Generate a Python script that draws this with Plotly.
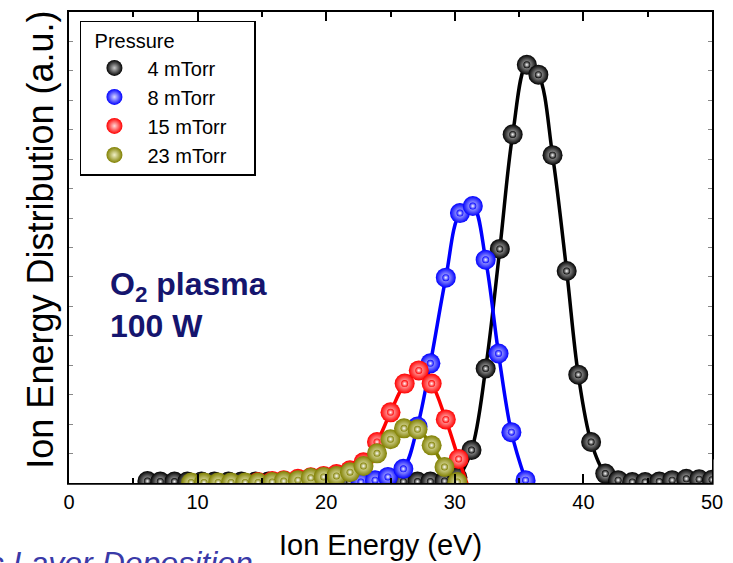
import plotly.graph_objects as go

# ---------------- data ----------------
series_names = ["4 mTorr", "8 mTorr", "15 mTorr", "23 mTorr"]
series_colors = ["#000000", "#0000ff", "#ff0000", "#808000"]
highlight_colors = ["#c8c8c8", "#d8d8ff", "#ffd8d8", "#f0f0c8"]

energy_4 = [6.1, 7.1, 8.2, 9.2, 10.3, 11.3, 12.4, 13.4, 14.5, 15.5, 16.6, 17.6, 18.7,
            19.7, 20.8, 21.8, 22.9, 23.9, 25.0, 26.0, 27.1, 28.1, 29.2, 30.2, 31.3,
            32.4, 33.5, 34.5, 35.6, 36.5, 37.6, 38.7, 39.6, 40.6, 41.7, 42.7, 43.8,
            44.8, 45.9, 46.9, 48.0, 49.0, 50.0]
ied_4 = [0.4, 0.3, 0.3, 0.3, 0.3, 0.3, 0.3, 0.3, 0.3, 0.3, 0.3, 0.3, 0.3,
         0.3, 0.3, 0.3, 0.3, 0.3, 0.3, 0.3, 0.3, 0.3, 0.4, 1.2, 7.0,
         24.3, 49.7, 74.0, 88.8, 86.7, 69.6, 45.0, 23.0, 8.7, 2.0, 0.6, 0.2,
         0.2, 0.3, 0.6, 0.9, 0.8, 0.7]

energy_8 = [22.7, 23.8, 24.8, 26.0, 27.1, 28.1, 29.3, 30.4, 31.4, 32.4, 33.4, 34.4, 35.5]
ied_8 = [0.2, 0.6, 1.3, 3.0, 12.0, 25.4, 43.6, 57.3, 58.8, 47.4, 27.5, 10.8, 0.6]

energy_15 = [14.7, 15.8, 16.7, 17.8, 18.8, 19.8, 20.8, 21.85, 22.9, 23.95, 25.0, 26.1,
             27.2, 28.2, 29.3, 30.3, 31.3]
ied_15 = [0.2, 0.4, 0.6, 0.9, 1.2, 1.5, 1.9, 2.7, 4.4, 8.7, 15.0, 21.1,
          23.9, 21.1, 13.5, 5.1, -3.0]

energy_23 = [9.5, 10.5, 11.6, 12.6, 13.7, 14.7, 15.8, 16.7, 17.8, 18.8, 19.8, 20.8,
             21.85, 22.9, 23.95, 25.0, 26.05, 27.1, 28.2, 29.2, 30.2]
ied_23 = [0.1, 0.1, 0.1, 0.1, 0.1, 0.1, 0.2, 0.4, 0.6, 1.1, 1.3, 1.5,
          2.3, 3.6, 6.3, 9.3, 11.6, 11.4, 8.0, 3.4, 0.2]

x_ticks = [0, 10, 20, 30, 40, 50]

energies = [energy_4, energy_8, energy_15, energy_23]
ieds = [ied_4, ied_8, ied_15, ied_23]

FONT = "Liberation Sans, Arial, sans-serif"

fig = go.Figure()
for name, col, hcol, xs, ys in zip(series_names, series_colors, highlight_colors, energies, ieds):
    fig.add_trace(go.Scatter(x=xs, y=ys, mode="lines", showlegend=False,
                             line=dict(color=col, width=3.5, shape="spline", smoothing=1.0),
                             hoverinfo="skip"))
    fig.add_trace(go.Scatter(x=xs, y=ys, mode="markers", name=name,
                             marker=dict(size=20, color=col,
                                         gradient=dict(type="radial", color=hcol),
                                         line=dict(width=0))))
    fig.add_trace(go.Scatter(x=xs, y=ys, mode="markers", showlegend=False,
                             marker=dict(size=7, color=col,
                                         gradient=dict(type="radial", color="#ffffff"),
                                         line=dict(width=0)),
                             hoverinfo="skip"))

fig.update_layout(
    width=733, height=563,
    margin=dict(l=69, r=21, t=10, b=80),
    paper_bgcolor="white", plot_bgcolor="white",
    font=dict(family=FONT, color="black"),
    xaxis=dict(range=[0, 50], tickvals=x_ticks, ticks="inside", ticklen=9, tickwidth=1.5,
               tickcolor="black",
               minor=dict(dtick=5, tick0=0, ticks="inside", ticklen=5, tickwidth=1.5, tickcolor="black"),
               showline=True, linecolor="black", linewidth=2, mirror="allticks",
               showgrid=False, zeroline=False,
               tickfont=dict(size=20, family=FONT)),
    yaxis=dict(range=[0, 100], dtick=6.25, ticks="inside", ticklen=4, tickwidth=1,
               tickcolor="#888888", showticklabels=False,
               showline=True, linecolor="black", linewidth=2, mirror="allticks",
               showgrid=False, zeroline=False),
    legend=dict(x=0.017, y=0.981, xanchor="left", yanchor="top",
                bgcolor="white", bordercolor="black", borderwidth=1.5,
                font=dict(size=20, family=FONT),
                title=dict(text="\u00a0\u00a0Pressure" + "\u00a0" * 14, font=dict(size=20, family=FONT)),
                itemsizing="trace", itemwidth=56, tracegroupgap=0),
    showlegend=True,
)

# white masks so baseline markers look cut by the frame, as in the reference
fig.add_shape(type="rect", xref="paper", yref="paper", x0=-0.01, x1=1.02, y0=-0.018, y1=-0.0035,
              fillcolor="white", line=dict(width=0), layer="above")
fig.add_shape(type="rect", xref="paper", yref="paper", x0=1.0025, x1=1.025, y0=-0.018, y1=0.05,
              fillcolor="white", line=dict(width=0), layer="above")

# axis titles
fig.add_annotation(xref="paper", yref="paper", x=-0.044, y=0.516, xanchor="center", yanchor="middle",
                   text="Ion Energy Distribution (a.u.)", textangle=-90, showarrow=False,
                   font=dict(size=36, family=FONT, color="black"))
fig.add_annotation(xref="paper", yref="paper", x=0.484, y=-0.131, xanchor="center", yanchor="middle",
                   text="Ion Energy (eV)", showarrow=False,
                   font=dict(size=29, family=FONT, color="black"))

fig.add_annotation(xref="paper", yref="paper", x=0.06, y=0.464, xanchor="left", yanchor="top",
                   text="<b>O<sub>2</sub> plasma<br>100 W</b>", align="left", showarrow=False,
                   font=dict(size=32, family=FONT, color="#15156e"))

fig.add_annotation(xref="paper", yref="paper", x=0.289, y=-0.17, xanchor="right", yanchor="middle",
                   text="<i>Atomic Layer Deposition</i>", showarrow=False,
                   font=dict(size=32, family=FONT, color="#3a3aa8"))

fig.write_html("out.html")
